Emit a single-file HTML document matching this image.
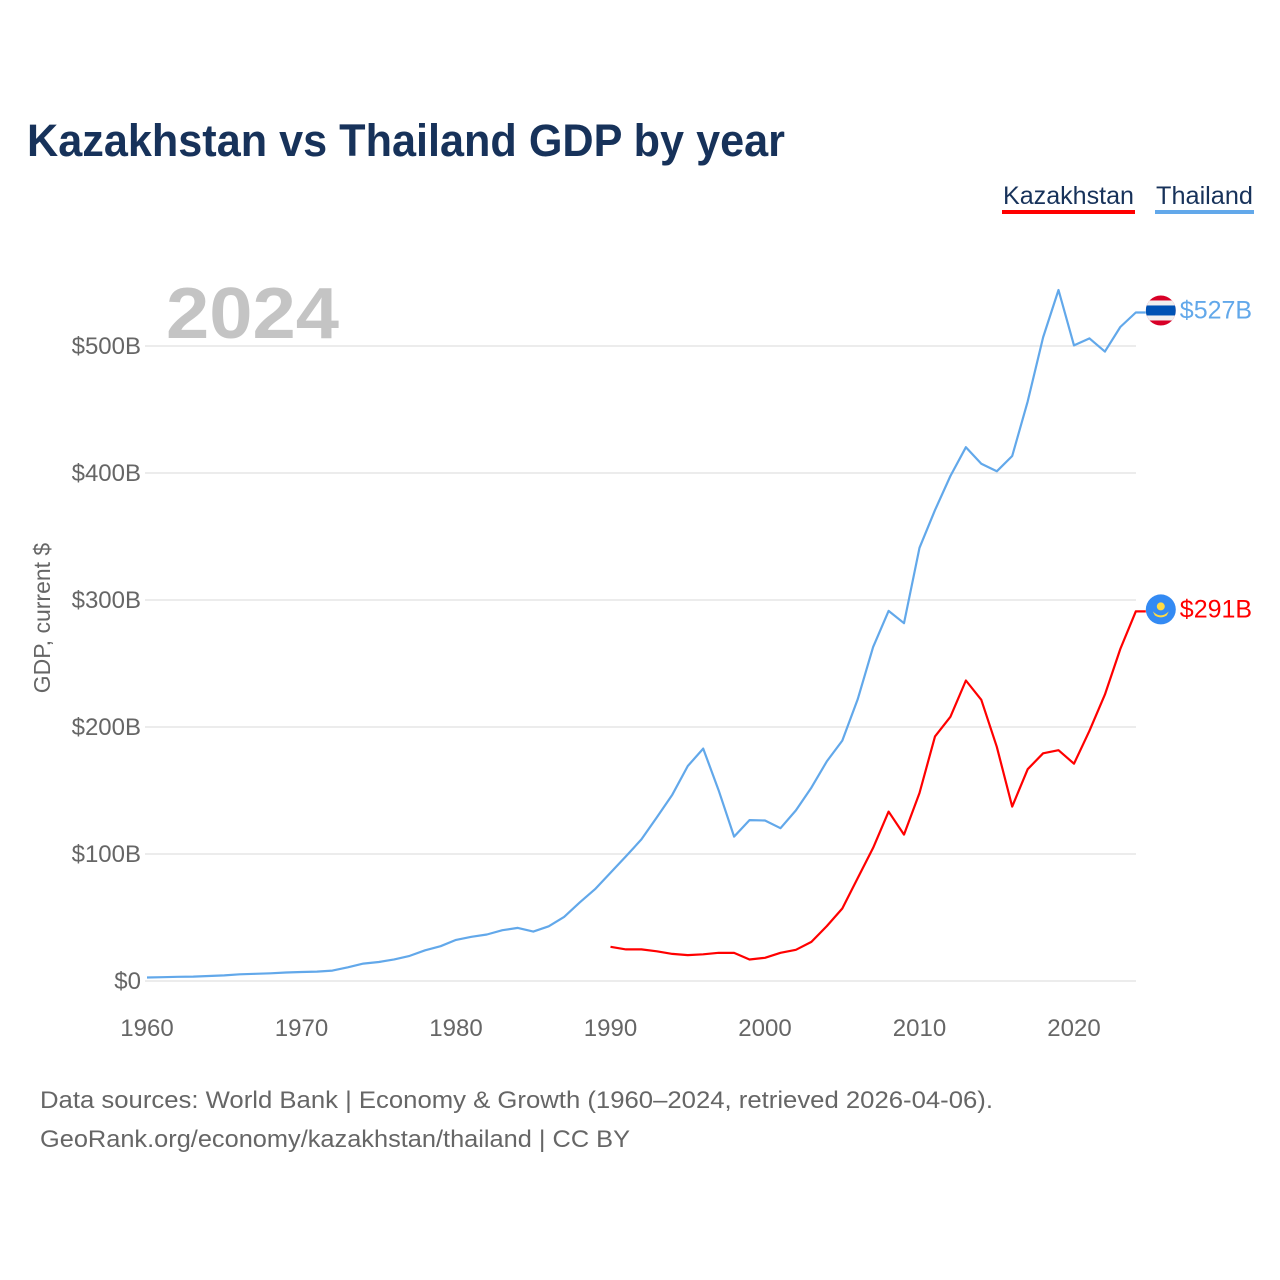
<!DOCTYPE html>
<html><head><meta charset="utf-8">
<style>
body{margin:0;background:#fff;}
svg{display:block;font-family:"Liberation Sans",sans-serif;}
</style></head>
<body>
<svg id="chart" width="1280" height="1280" viewBox="0 0 1280 1280" xmlns="http://www.w3.org/2000/svg">
<rect width="1280" height="1280" fill="#fff"/>
<text x="27" y="156" font-size="45" font-weight="bold" fill="#17325a" textLength="758" lengthAdjust="spacingAndGlyphs">Kazakhstan vs Thailand GDP by year</text>
<g>
<text x="1003" y="204" font-size="25" fill="#17325a" textLength="131" lengthAdjust="spacingAndGlyphs">Kazakhstan</text>
<rect x="1002" y="210" width="133" height="4" fill="#ff0000"/>
<text x="1156" y="204" font-size="25" fill="#17325a" textLength="97" lengthAdjust="spacingAndGlyphs">Thailand</text>
<rect x="1155" y="210" width="99" height="4" fill="#62a8ea"/>
</g>
<text x="166" y="338" font-size="72" font-weight="bold" fill="#c4c4c4" textLength="173" lengthAdjust="spacingAndGlyphs">2024</text>
<text transform="translate(50,618) rotate(-90)" text-anchor="middle" font-size="23" fill="#666">GDP, current $</text>
<g id="grid"></g>
<g id="xaxis"></g>
<g id="lines"></g>
<g id="ends"></g>
<text x="40" y="1108" font-size="24" fill="#666" textLength="953" lengthAdjust="spacingAndGlyphs">Data sources: World Bank | Economy &amp; Growth (1960–2024, retrieved 2026-04-06).</text>
<text x="40" y="1147" font-size="24" fill="#666" textLength="590" lengthAdjust="spacingAndGlyphs">GeoRank.org/economy/kazakhstan/thailand | CC BY</text>
</svg>
<script>
const thYears = [1960,1961,1962,1963,1964,1965,1966,1967,1968,1969,1970,1971,1972,1973,1974,1975,1976,1977,1978,1979,1980,1981,1982,1983,1984,1985,1986,1987,1988,1989,1990,1991,1992,1993,1994,1995,1996,1997,1998,1999,2000,2001,2002,2003,2004,2005,2006,2007,2008,2009,2010,2011,2012,2013,2014,2015,2016,2017,2018,2019,2020,2021,2022,2023,2024];
const thailand = [2.76,3.0,3.3,3.5,3.9,4.4,5.3,5.7,6.1,6.7,7.1,7.4,8.2,10.8,13.7,15.0,17.0,19.8,24.2,27.4,32.4,34.8,36.6,40.0,41.8,38.9,43.1,50.5,61.7,72.3,85.3,98.2,111.5,128.9,146.7,169.3,183.0,150.2,113.7,126.7,126.4,120.3,134.3,152.3,172.9,189.3,221.8,262.9,291.4,281.7,341.1,370.8,397.6,420.3,407.3,401.3,413.4,456.4,506.8,544.1,500.5,506.0,495.6,515.0,526.4];
const kzYears = [1990,1991,1992,1993,1994,1995,1996,1997,1998,1999,2000,2001,2002,2003,2004,2005,2006,2007,2008,2009,2010,2011,2012,2013,2014,2015,2016,2017,2018,2019,2020,2021,2022,2023,2024];
const kazakhstan = [26.9,24.9,24.9,23.4,21.3,20.4,21.0,22.2,22.1,16.9,18.3,22.2,24.6,30.8,43.2,57.1,81.0,104.8,133.4,115.3,148.0,192.6,208.0,236.6,221.4,184.4,137.3,166.8,179.3,181.7,171.1,197.1,225.5,261.4,291.0];
const yTicks = [0,100,200,300,400,500];
const yTickLabels = ["$0","$100B","$200B","$300B","$400B","$500B"];
const xTicks = [1960,1970,1980,1990,2000,2010,2020];

const NS="http://www.w3.org/2000/svg";
const x = yr => 147 + (yr-1960)*(1074-147)/60;
const y = v => 981 - v*1.27;
function mk(tag, attrs, parent){const e=document.createElementNS(NS,tag);for(const k in attrs)e.setAttribute(k,attrs[k]);parent.appendChild(e);return e;}
const grid=document.getElementById('grid'), xa=document.getElementById('xaxis'), lines=document.getElementById('lines'), ends=document.getElementById('ends');
yTicks.forEach((t,i)=>{
  const l=mk('line',{x1:145,x2:1136,y1:y(t),y2:y(t),stroke:'#e6e6e6','stroke-width':1.5},grid);
  
  
  const tx=mk('text',{x:141,y:y(t)+8,'text-anchor':'end','font-size':24,fill:'#666'},grid);
  tx.textContent=yTickLabels[i];
  
  
});
xTicks.forEach(t=>{
  const tx=mk('text',{x:x(t),y:1036,'text-anchor':'middle','font-size':24,fill:'#666'},xa);
  tx.textContent=t;
  
  
});
function series(years, vals, color, name, lastLabel, flag){
  let d=years.map((yr,i)=>(i?'L':'M')+x(yr).toFixed(1)+','+y(vals[i]).toFixed(1)).join(' ');
  const lx=x(years[years.length-1]), ly=y(vals[vals.length-1]);
  d+=' L'+(lx+10)+','+ly.toFixed(1);
  const p=mk('path',{d:d,fill:'none',stroke:color,'stroke-width':2.2,'stroke-linejoin':'round'},lines);
  
  
  const cx=lx+25, cy=ly-2;
  const g=mk('g',{},ends);
  
  
  flag(g,cx,cy);
  const t=mk('text',{x:cx+19,y:cy+8,'font-size':25,fill:color},ends);
  t.textContent=lastLabel;
  
  
}
function thFlag(g,cx,cy){
  const id='thclip';
  const cp=mk('clipPath',{id:id},g); mk('circle',{cx:cx,cy:cy,r:15},cp);
  const gg=mk('g',{'clip-path':'url(#'+id+')'},g);
  mk('rect',{x:cx-15,y:cy-15,width:30,height:30,fill:'#d80027'},gg);
  mk('rect',{x:cx-15,y:cy-10,width:30,height:20,fill:'#f0f0f0'},gg);
  mk('rect',{x:cx-15,y:cy-5,width:30,height:10,fill:'#0052b4'},gg);
}
function kzFlag(g,cx,cy){
  mk('circle',{cx:cx,cy:cy,r:15,fill:'#338af3'},g);
  mk('circle',{cx:cx,cy:cy-3,r:4,fill:'#ffda44'},g);
  mk('path',{d:`M${cx-8},${cy+2} Q${cx},${cy+10} ${cx+8},${cy+2} L${cx+6},${cy+6} Q${cx},${cy+10} ${cx-6},${cy+6} Z`,fill:'#ffda44'},g);
}
series(thYears, thailand, '#62a8ea', 'thailand', '$527B', thFlag);
series(kzYears, kazakhstan, '#ff0000', 'kazakhstan', '$291B', kzFlag);
</script>
</body></html>
